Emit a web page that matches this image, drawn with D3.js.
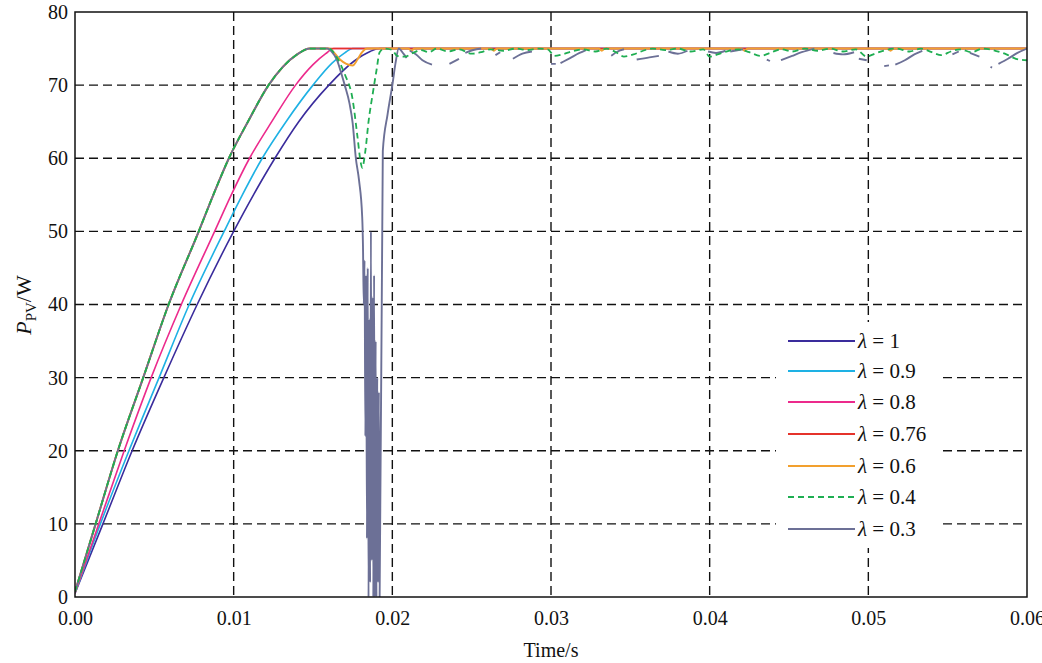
<!DOCTYPE html>
<html>
<head>
<meta charset="utf-8">
<script src="https://cdn.jsdelivr.net/npm/d3@7"></script>
<style>
  html, body { margin: 0; padding: 0; background: #fff; }
  svg { display: block; }
  text { font-family: "Liberation Serif", "Times New Roman", serif; fill: #111; }
</style>
</head>
<body>
<svg id="chart" width="1042" height="663"></svg>
<script>
// ---------- data (time in s, power in W) ----------
const xTicks = [0.00, 0.01, 0.02, 0.03, 0.04, 0.05, 0.06];
const yTicks = [0, 10, 20, 30, 40, 50, 60, 70, 80];
const legendLabels = ["1", "0.9", "0.8", "0.76", "0.6", "0.4", "0.3"];

const lambda1 = [[0,0.5],[0.00176,10],[0.0036,20],[0.0056,30],[0.0077,40],[0.0100,50],[0.01125,55],[0.0126,60],[0.0141,65],[0.0160,70],[0.0176,73.3],[0.0186,74.6],[0.0192,75],[0.0300,75],[0.0450,75],[0.0600,75]];
const lambda09 = [[0,0.5],[0.0016,10],[0.0034,20],[0.0053,30],[0.0072,40],[0.0094,50],[0.01055,55],[0.0118,60],[0.0133,65],[0.0150,70],[0.0162,73],[0.0170,74.4],[0.0175,75],[0.0300,75],[0.0600,75]];
const lambda08 = [[0,0.5],[0.0015,10],[0.0031,20],[0.0048,30],[0.0067,40],[0.0088,50],[0.00985,55],[0.0110,60],[0.0124,65],[0.0139,70],[0.0150,72.8],[0.0158,74.3],[0.0163,75],[0.0300,75],[0.0600,75]];
const lambda076 = [[0,0.7],[0.0013,10],[0.0027,20],[0.0043,30],[0.0059,40],[0.0078,50],[0.00872,55],[0.0097,60],[0.0109,65],[0.0122,70],[0.0131,72.5],[0.0140,74.2],[0.0148,75],[0.0300,75],[0.0600,75]];
const lambda06 = [[0,0.7],[0.0013,10],[0.0027,20],[0.0043,30],[0.0059,40],[0.0078,50],[0.00872,55],[0.0097,60],[0.0109,65],[0.0122,70],[0.0131,72.5],[0.0140,74.2],[0.0148,75],[0.0160,75],[0.0163,74.5],[0.0167,73.5],[0.0171,72.9],[0.0175,72.7],[0.0178,73.5],[0.0181,74.5],[0.0184,75],[0.0210,75],[0.0212,74.7],[0.0214,75],[0.0262,75],[0.0264,74.7],[0.0266,75],[0.0330,75],[0.0332,74.7],[0.0334,75],[0.0420,75],[0.0422,74.7],[0.0424,75],[0.0512,75],[0.0514,74.7],[0.0516,75],[0.0600,75]];
const lambda04 = [[0,0.7],[0.0013,10],[0.0027,20],[0.0043,30],[0.0059,40],[0.0078,50],[0.00872,55],[0.0097,60],[0.0109,65],[0.0122,70],[0.0131,72.5],[0.0140,74.2],[0.0148,75],[0.0160,75],[0.0165,73.8],[0.0170,71.5],[0.0175,68],[0.0178,63],[0.0180,59.5],[0.0181,58.7],[0.0183,61],[0.0185,65],[0.0188,69.3],[0.0190,72],[0.0192,74.5],[0.0195,75],[0.0200,74.8],[0.0203,74.0],[0.0208,73.9],[0.0213,74.4],[0.0218,74.8],[0.0223,74.5],[0.0228,75],[0.0235,74.6],[0.0242,74.9],[0.0250,74.3],[0.0256,74.5],[0.0262,74.9],[0.0270,74.7],[0.0278,75],[0.0285,74.8],[0.0292,75],[0.0298,74.9],[0.0302,74.0],[0.0307,74.2],[0.0313,74.6],[0.0320,74.9],[0.0328,74.6],[0.0335,75],[0.0341,74.5],[0.0346,73.9],[0.0352,74.2],[0.0358,74.7],[0.0364,75],[0.0372,74.8],[0.0380,75],[0.0388,74.6],[0.0396,74.9],[0.0400,73.9],[0.0405,74.2],[0.0412,74.7],[0.0418,74.9],[0.0425,74.5],[0.0432,74.0],[0.0438,74.4],[0.0445,74.9],[0.0452,74.6],[0.0460,75],[0.0468,74.7],[0.0476,75],[0.0484,74.6],[0.0492,74.9],[0.0499,73.9],[0.0504,74.3],[0.0511,74.8],[0.0518,75],[0.0526,74.6],[0.0533,75],[0.0540,74.5],[0.0546,74.1],[0.0552,74.6],[0.0558,74.9],[0.0565,74.5],[0.0572,75],[0.0580,74.7],[0.0587,74.2],[0.0593,73.6],[0.0600,73.4]];
const lambda03 = [[0,0.7],[0.0013,10],[0.0027,20],[0.0043,30],[0.0059,40],[0.0078,50],[0.00872,55],[0.0097,60],[0.0109,65],[0.0122,70],[0.0131,72.5],[0.0140,74.2],[0.0148,75],[0.0159,75],[0.0162,74.5],[0.0165,73.5],[0.0168,71.5],[0.0170,70],[0.0173,67.5],[0.0175,64.8],[0.0177,60],[0.0179,57],[0.0181,52],[0.01815,48],
  [0.0182,40],[0.01825,46],[0.0183,22],[0.01835,44],[0.0184,8],[0.01845,45],[0.0185,0],[0.01855,38],[0.0186,2],[0.01865,50],[0.0187,5],[0.01875,41],[0.0188,0],[0.01885,44],[0.0189,0],[0.01895,35],[0.0190,0],[0.01905,30],[0.0191,2],[0.01915,28],[0.0192,0],[0.0194,61],[0.0197,66],[0.0200,70],[0.0202,73],[0.0204,75],[0.0207,74.3],[0.0209,73.7],[0.0210,null],
  [0.0211,74.7],[0.0215,74.2],[0.0219,73.4],[0.0225,72.8],[0.0228,null],
  [0.0236,72.9],[0.0242,73.6],[0.0244,null],
  [0.0246,74.4],[0.0251,74.8],[0.0256,75],[0.0260,null],
  [0.0265,74.1],[0.0268,74.5],[0.0270,null],
  [0.0276,73.6],[0.0282,74.3],[0.0288,74.6],[0.0292,null],
  [0.0300,72.9],[0.0303,72.9],[0.0304,null],
  [0.0306,73.0],[0.0312,73.7],[0.0318,74.4],[0.0322,74.8],[0.0325,null],
  [0.0338,74.0],[0.0342,74.6],[0.0346,74.9],[0.0349,null],
  [0.0354,73.5],[0.0362,73.8],[0.0368,74.0],[0.0370,null],
  [0.0374,74.6],[0.0380,74.3],[0.0386,74.7],[0.0390,null],
  [0.0399,74.6],[0.0404,74.4],[0.0410,74.7],[0.0411,null],
  [0.0413,74.6],[0.0421,74.9],[0.0425,null],
  [0.0436,73.5],[0.0438,73.3],[0.0440,null],
  [0.0445,73.4],[0.0452,74.0],[0.0458,74.5],[0.0466,75],[0.0470,null],
  [0.0478,74.4],[0.0484,74.2],[0.0491,74.5],[0.0492,null],
  [0.0494,73.6],[0.0499,73.4],[0.0502,null],
  [0.0510,72.6],[0.0513,72.7],[0.0515,null],
  [0.0517,72.8],[0.0523,73.4],[0.0529,74.2],[0.0534,74.7],[0.0540,null],
  [0.0553,74.2],[0.0557,74.6],[0.0560,null],
  [0.0564,74.4],[0.0570,73.9],[0.0573,null],
  [0.0577,72.5],[0.0578,72.4],[0.0580,null],
  [0.0582,72.9],[0.0588,73.6],[0.0594,74.4],[0.0600,75]];

const colors = ["#3a2c9c", "#1eb1e4", "#ec2a8c", "#e5332b", "#f2a02e", "#1fae52", "#6c7096"];

// ---------- layout ----------
const svg = d3.select("#chart");
const L = 75, R = 1027, T = 12, B = 597;
const x = d3.scaleLinear().domain([0, 0.06]).range([L, R]);
const y = d3.scaleLinear().domain([0, 80]).range([B, T]);

svg.append("defs").append("clipPath").attr("id", "clip")
  .append("rect").attr("x", L).attr("y", T).attr("width", R - L).attr("height", B - T);

// grid
const grid = svg.append("g");
grid.selectAll(".vg").data(xTicks.slice(1, -1)).join("line")
  .attr("x1", d => x(d)).attr("x2", d => x(d)).attr("y1", T).attr("y2", B)
  .attr("stroke", "#111").attr("stroke-width", 1.4).attr("stroke-dasharray", "9,5");
grid.selectAll(".hg").data(yTicks.slice(1, -1)).join("line")
  .attr("y1", d => y(d)).attr("y2", d => y(d)).attr("x1", L).attr("x2", R)
  .attr("stroke", "#111").attr("stroke-width", 1.4).attr("stroke-dasharray", "9,5");

// legend background (covers grid)
svg.append("rect").attr("x", 776).attr("y", 322).attr("width", 166).attr("height", 226).attr("fill", "#fff");

// lines
const line = d3.line().defined(d => d[1] !== null).curve(d3.curveMonotoneX)
  .x(d => x(d[0])).y(d => y(d[1]));
const plotG = svg.append("g").attr("clip-path", "url(#clip)");
const drawOrder = [
  {data: lambda1, c: colors[0], w: 1.6, dash: null},
  {data: lambda09, c: colors[1], w: 1.6, dash: null},
  {data: lambda08, c: colors[2], w: 1.6, dash: null},
  {data: lambda076, c: colors[3], w: 1.6, dash: null},
  {data: lambda06, c: colors[4], w: 2.0, dash: null},
  {data: lambda03, c: colors[6], w: 1.9, dash: null},
  {data: lambda04, c: colors[5], w: 1.8, dash: "6,4"}
];
drawOrder.forEach(s => {
  plotG.append("path").datum(s.data).attr("d", line)
    .attr("fill", "none").attr("stroke", s.c).attr("stroke-width", s.w)
    .attr("stroke-linejoin", "round")
    .attr("stroke-dasharray", s.dash);
});

// frame
svg.append("rect").attr("x", L).attr("y", T).attr("width", R - L).attr("height", B - T)
  .attr("fill", "none").attr("stroke", "#111").attr("stroke-width", 1.5);

// axes
const xAxis = d3.axisBottom(x).tickValues(xTicks).tickFormat(d3.format(".2f")).tickSize(0).tickPadding(14);
const gx = svg.append("g").attr("transform", `translate(0,${B})`).call(xAxis);
gx.select(".domain").remove();
gx.selectAll("text").attr("font-size", 20).attr("font-family", "Liberation Serif").attr("fill", "#111");

const yAxis = d3.axisLeft(y).tickValues(yTicks).tickFormat(d3.format("d")).tickSize(0).tickPadding(7);
const gy = svg.append("g").attr("transform", `translate(${L},0)`).call(yAxis);
gy.select(".domain").remove();
gy.selectAll("text").attr("font-size", 20).attr("font-family", "Liberation Serif").attr("fill", "#111");

// axis titles
svg.append("text").attr("x", 551).attr("y", 657).attr("text-anchor", "middle")
  .attr("font-size", 20).text("Time/s");

const yt = svg.append("text").attr("transform", "translate(31,305) rotate(-90)")
  .attr("text-anchor", "middle").attr("font-size", 22);
yt.append("tspan").attr("font-style", "italic").text("P");
yt.append("tspan").attr("font-size", 15).attr("dy", 5).text("PV");
yt.append("tspan").attr("dy", -5).text("/W");

// legend
const rowY = [341, 371, 402, 434, 466, 497, 529];
const lg = svg.append("g");
legendLabels.forEach((lab, i) => {
  const yy = rowY[i];
  lg.append("line").attr("x1", 788).attr("x2", 855).attr("y1", yy).attr("y2", yy)
    .attr("stroke", colors[i]).attr("stroke-width", 1.8)
    .attr("stroke-dasharray", i === 5 ? "6,4" : null);
  const t = lg.append("text").attr("x", 858).attr("y", yy + 7).attr("font-size", 21);
  t.append("tspan").attr("font-style", "italic").text("λ");
  t.append("tspan").text(" = " + lab);
});
</script>
</body>
</html>
